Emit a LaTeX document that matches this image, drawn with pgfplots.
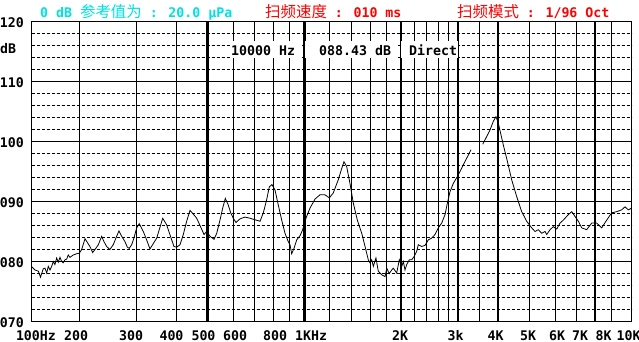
\documentclass[border=0pt]{standalone}
\usepackage{pgfplots}
\pgfplotsset{compat=1.18}
\usepackage{fontspec}
\setmainfont{DejaVu Sans Mono}
\newfontfamily\mono{DejaVu Sans Mono}
\newfontfamily\cjk{Noto Sans CJK SC}
\definecolor{ttl}{RGB}{0,225,225}
\definecolor{rd}{RGB}{255,0,0}
\newcommand\lbl{\mono\bfseries\fontsize{13.3}{14}\selectfont}
\newcommand\ck{\cjk\mdseries\fontsize{15.5}{16}\selectfont}
\begin{document}
\begin{tikzpicture}
\useasboundingbox (0,0) rectangle (639bp,-342bp);
\begin{axis}[
  at={(31.7bp,-21bp)}, anchor=north west,
  scale only axis, width=600bp, height=300.7bp,
  xmode=log, xmin=142.3, xmax=10385, ymin=70, ymax=120,
  axis line style={line width=1bp, black},
  major tick length=0pt, minor tick length=0pt,
  every tick label/.append style={font=\lbl, text=black},
  xtick={146.7,195.4,289.5,386.7,486,609,810.6,1048.6,1982,2947,3923,4948,6087,7178,8492,10154},
  xticklabels={100Hz,200,300,400,500,600,800,1KHz,2K,3k,4K,5K,6K,7K,8K,10K},
  xticklabel style={anchor=base, inner sep=0pt, yshift=-18.3bp},
  minor xtick={200,300,400,600,700,800,900,1200,1400,1600,1800,2200,2400,2600,2800,3500,5000,6000,7000,9000},
  xmajorgrids=false, xminorgrids=true,
  minor grid style={black, line width=0.9bp},
  extra x ticks={500,1000,2000,3000,4000,8000},
  extra x tick labels={},
  extra x tick style={grid=major, major grid style={black, line width=2.3bp}},
  ytick={70,80,90,100,110,120},
  yticklabels={070,080,090,100,110,120},
  yticklabel style={anchor=base east, inner sep=0pt, xshift=-7.7bp, yshift=-6bp},
  ymajorgrids=true,
  major grid style={black, line width=1bp},
  extra y ticks={72,74,76,78,82,84,86,88,92,94,96,98,102,104,106,108,112,114,116,118},
  extra y tick labels={},
  extra y tick style={grid=major, major grid style={black, line width=0.8bp, dash pattern=on 3bp off 2bp}},
]
\addplot[black, line width=0.8bp] coordinates {
(142.6,79.1)(145.7,78.6)(149.2,78.4)(151.5,77.4)(154.6,78.8)(156.5,78.9)(158.4,78.1)(160.2,79.2)(162.2,78.6)(164.1,79.2)(166.0,80.0)(168.0,79.5)(170.1,80.6)(172.1,79.9)(174.2,80.7)(176.3,80.0)(178.3,79.8)(180.5,80.3)(182.7,80.4)(184.8,81.1)(187.1,80.7)(191.6,81.1)(196.3,81.3)(200,81.4)(203.4,82.0)(208.3,83.8)(211.7,83.2)(215.8,82.5)(220.0,81.5)(223.7,82.0)(229.1,82.8)(234.7,84.2)(238.6,83.3)(243.2,82.5)(248.9,82.0)(254.9,82.8)(261.2,84.2)(265.6,85.1)(270.8,84.2)(277.3,83.3)(281.8,82.4)(285.8,82.2)(290.8,82.8)(295.6,83.9)(301.4,85.6)(307.0,86.3)(316.0,85.0)(323.7,83.6)(331.5,82.1)(347.8,83.9)(363.1,87.2)(373.6,86.1)(384.4,84.1)(393.6,82.5)(401.3,82.4)(410.9,82.8)(420.7,84.5)(430.9,86.7)(441.3,88.5)(451.8,87.9)(463.0,87.2)(474.0,86.0)(487.8,84.5)(497.3,85.0)(509.2,84.2)(524.0,83.7)(534.2,84.7)(546.9,86.9)(557.6,88.9)(568.1,90.5)(580.3,89.4)(590.4,88.1)(601.5,87.2)(613.1,86.5)(631.0,87.1)(654.0,87.4)(677.8,87.2)(707.5,86.9)(728.1,86.7)(745.4,88.1)(763.8,90.3)(778.0,92.4)(793.1,92.8)(810.4,91.9)(829.7,89.4)(850.2,86.9)(870.4,84.7)(891.3,83.3)(902.1,82.8)(913.1,81.3)(928.4,82.2)(946.3,83.6)(969.0,84.3)(987.9,85.3)(1011,87.2)(1041,88.9)(1079,90.4)(1118,91.1)(1158,91.1)(1195,90.6)(1229,91.4)(1274,93.6)(1306,95.5)(1327,96.6)(1353,95.8)(1385,93.0)(1419,89.7)(1460,86.9)(1507,84.7)(1543,82.5)(1579,80.3)(1598,79.8)(1618,80.3)(1637,79.2)(1668,80.6)(1696,78.4)(1738,77.8)(1780,77.5)(1802,78.9)(1834,78.0)(1867,78.6)(1888,78.9)(1935,78.1)(1971,80.3)(2005,79.2)(2029,80.0)(2053,78.6)(2078,79.5)(2118,80.3)(2154,80.3)(2189,80.8)(2232,81.7)(2258,82.8)(2313,82.5)(2369,82.7)(2425,83.6)(2485,83.9)(2544,84.5)(2605,85.6)(2669,86.4)(2733,87.8)(2779,89.7)(2832,91.6)(2900,93.0)(3005,94.4)(3115,96.1)(3228,97.7)(3291,98.6)
};
\addplot[black, line width=0.8bp] coordinates {
(3578,99.5)(3683,100.8)(3771,101.9)(3860,103.3)(3936,104.1)(4001,103.0)(4146,99.4)(4258,96.9)(4402,93.6)(4563,90.8)(4729,88.3)(4900,86.7)(5081,85.6)(5202,85.0)(5326,85.3)(5457,84.7)(5588,85.0)(5655,84.5)(5791,85.3)(5929,85.8)(6075,85.4)(6221,86.4)(6368,86.9)(6600,87.8)(6763,88.3)(6924,87.5)(7090,86.7)(7265,85.6)(7528,85.3)(7802,86.4)(8085,86.4)(8380,85.6)(8685,86.9)(9000,88.1)(9329,88.3)(9667,88.6)(9899,89.1)(10134,88.6)(10385,88.9)
};
\end{axis}
\fill[white] (230bp,-41bp) rectangle (301.8bp,-58bp);
\fill[white] (304.8bp,-41bp) rectangle (397.8bp,-58bp);
\fill[white] (400.8bp,-41bp) rectangle (458bp,-58bp);
\node[anchor=base west, inner sep=0pt] at (231bp,-55bp) {\lbl 10000 Hz};
\node[anchor=base west, inner sep=0pt] at (319bp,-55bp) {\lbl 088.43 dB};
\node[anchor=base west, inner sep=0pt] at (409bp,-55bp) {\lbl Direct};
\node[anchor=base west, inner sep=0pt] at (0bp,-53.3bp) {\lbl dB};
\node[anchor=base west, inner sep=0pt, text=ttl] at (40bp,-17bp) {\lbl 0 dB {\ck 参考值为} : 20.0 μPa};
\node[anchor=base west, inner sep=0pt, text=rd] at (265bp,-17bp) {\lbl {\ck 扫频速度} : 010 ms};
\node[anchor=base west, inner sep=0pt, text=rd] at (457bp,-17bp) {\lbl {\ck 扫频模式} : 1/96 Oct};
\end{tikzpicture}
\end{document}
